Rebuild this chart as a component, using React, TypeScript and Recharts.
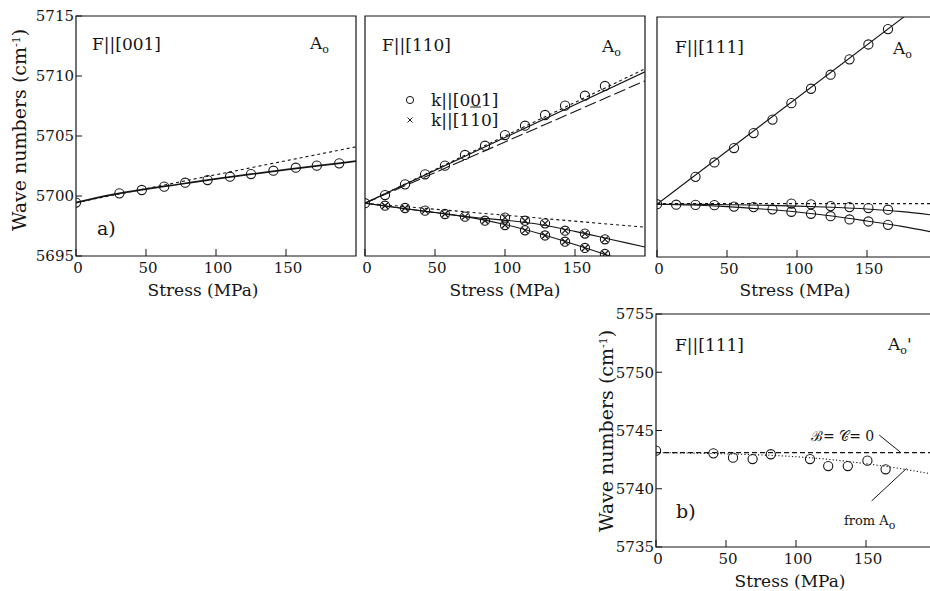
import React from 'react'
import { ComposedChart, Line, Scatter, XAxis, YAxis, ReferenceArea, ReferenceLine } from 'recharts'

// shared axes
const stressTicks = [0, 50, 100, 150]
const topTicks = [5695, 5700, 5705, 5710, 5715]
const bottomTicks = [5735, 5740, 5745, 5750, 5755]
const fitStress = [0, 25, 50, 75, 100, 125, 150, 175, 200]
const ends = [0, 200]

// a) F||[001]
const stress001 = [0, 31, 47, 63, 78, 94, 110, 125, 141, 157, 172, 188]
const wave001 = [5699.45, 5700.22, 5700.5, 5700.78, 5701.11, 5701.33, 5701.61, 5701.83, 5702.11, 5702.36, 5702.53, 5702.72]
const fit001Solid = [5699.45, 5700.1, 5700.58, 5701.0, 5701.42, 5701.82, 5702.2, 5702.55, 5702.9]
const fit001Dash = [5699.45, 5704.1]

// F||[110]
const stress110 = [0, 14.3, 28.6, 42.9, 57.1, 71.4, 85.7, 100, 114.3, 128.6, 142.9, 157.1, 171.4]
const wave110Up = [5699.4, 5700.08, 5700.97, 5701.81, 5702.53, 5703.42, 5704.19, 5705.08, 5705.86, 5706.75, 5707.53, 5708.36, 5709.17]
const stress110Low = [14.3, 28.6, 42.9, 57.1, 71.4, 85.7]
const wave110Low = [5699.19, 5699.0, 5698.78, 5698.5, 5698.28, 5697.94]
const stress110Split = [100, 114.3, 128.6, 142.9, 157.1, 171.4]
const wave110Mid = [5698.2, 5697.94, 5697.72, 5697.11, 5696.87, 5696.39]
const wave110Bot = [5697.58, 5697.14, 5696.71, 5696.19, 5695.67, 5695.17]
const fit110UpSolid = [5699.4, 5710.35]
const fit110UpDot = [5699.4, 5710.6]
const fit110UpLong = [5699.4, 5709.6]
const fit110LowDash = [5699.4, 5697.4]
const fit110Mid = [5699.4, 5699.0, 5698.62, 5698.25, 5697.98, 5697.62, 5697.05, 5696.4, 5695.75]
const fit110Bot = [5699.4, 5699.0, 5698.62, 5698.22, 5697.62, 5696.85, 5695.95, 5695.0, 5694.1]

// F||[111]
const stress111 = [0, 27.5, 41, 55, 69, 82.5, 96, 110, 124, 137.5, 151, 165]
const wave111Up = [5699.4, 5701.68, 5702.88, 5704.08, 5705.33, 5706.45, 5707.82, 5709.02, 5710.19, 5711.47, 5712.71, 5713.99]
const stress111Mid = [13.7, 27.5, 41, 55, 69, 82.5, 96, 110, 124, 137.5, 151, 165]
const wave111Mid = [5699.36, 5699.34, 5699.32, 5699.2, 5699.16, 5698.97, 5699.45, 5699.39, 5699.24, 5699.16, 5699.08, 5698.94]
const stress111Bot = [96, 110, 124, 137.5, 151, 165]
const wave111Bot = [5698.77, 5698.6, 5698.4, 5698.13, 5697.96, 5697.68]
const fit111Up = [5699.4, 5717.1]
const fit111Dash = [5699.45, 5699.45]
const fit111Mid = [5699.4, 5699.39, 5699.36, 5699.31, 5699.24, 5699.14, 5699.0, 5698.78, 5698.45]
const fit111Bot = [5699.4, 5699.33, 5699.2, 5699.0, 5698.75, 5698.42, 5698.0, 5697.55, 5697.0]

// b) F||[111], A0'
const stressB = [0, 41, 55, 69, 82, 110, 123, 137, 151, 164]
const waveB = [5743.27, 5743.04, 5742.67, 5742.55, 5742.96, 5742.55, 5741.95, 5741.95, 5742.41, 5741.67]
const fitBZero = [5743.1, 5743.1]
const fitBFromA0 = [5743.1, 5743.06, 5743.0, 5742.9, 5742.75, 5742.5, 5742.15, 5741.72, 5741.2]
const pointerZero = [{ x: 159.5, y: 5744.6 }, { x: 174.5, y: 5743.15 }]
const pointerA0 = [{ x: 154, y: 5738.95 }, { x: 179, y: 5741.75 }]

const pts = (xs: number[], ys: number[]) => xs.map((x, i) => ({ x, y: ys[i] }))

const ink = '#151515'
const serif = "'DejaVu Serif', 'Liberation Serif', serif"
const tickStyle = { fontFamily: serif, fontSize: 15, fill: ink }

const Ring = (p: any) => <circle cx={p.cx} cy={p.cy} r={4.6} fill="none" stroke={ink} strokeWidth={1.1} />
const Cross = (p: any) => (
  <path
    d={`M${p.cx - 3},${p.cy - 3}L${p.cx + 3},${p.cy + 3}M${p.cx - 3},${p.cy + 3}L${p.cx + 3},${p.cy - 3}`}
    stroke={ink}
    strokeWidth={1.2}
  />
)

function fit(data: { x: number; y: number }[], dash?: string, type: 'linear' | 'monotone' = 'monotone', w = 1.1) {
  return (
    <Line
      data={data}
      dataKey="y"
      type={type}
      dot={false}
      stroke={ink}
      strokeWidth={w}
      strokeDasharray={dash}
      isAnimationActive={false}
    />
  )
}

interface PanelProps {
  left: number
  top: number
  width: number
  height: number
  yAxisW: number
  yDomain: [number, number]
  yTicks: number[]
  yLabels: boolean
  children: React.ReactNode
}

function Panel({ left, top, width, height, yAxisW, yDomain, yTicks, yLabels, children }: PanelProps) {
  return (
    <div style={{ position: 'absolute', left, top }}>
      <ComposedChart width={width} height={height} margin={{ top: 16, right: width - yAxisW - 280, bottom: 0, left: 0 }}>
        <XAxis
          dataKey="x"
          type="number"
          domain={[0, 200]}
          ticks={stressTicks}
          interval={0}
          allowDataOverflow
          height={44}
          axisLine={false}
          tickSize={-7}
          tickMargin={13}
          tick={{ ...tickStyle, dx: 2 }}
          tickLine={{ stroke: ink }}
        />
        <YAxis
          dataKey="y"
          type="number"
          domain={yDomain}
          ticks={yTicks}
          interval={0}
          allowDataOverflow
          width={yAxisW}
          axisLine={false}
          tickSize={-6}
          tickMargin={8}
          tick={yLabels ? tickStyle : false}
          tickLine={{ stroke: ink }}
        />
        <ReferenceArea x1={0} x2={200} y1={yDomain[0]} y2={yDomain[1]} fill="none" stroke={ink} strokeWidth={1.2} />
        {children}
      </ComposedChart>
    </div>
  )
}

function Txt({ x, y, size = 17, anchor = 'start', children }: { x: number; y: number; size?: number; anchor?: string; children: React.ReactNode }) {
  return (
    <div
      style={{
        position: 'absolute',
        left: x,
        top: y,
        fontFamily: serif,
        fontSize: size,
        lineHeight: 1,
        whiteSpace: 'nowrap',
        color: ink,
        transform: `translate(${anchor === 'middle' ? '-50%' : '0'}, -50%)`,
      }}
    >
      {children}
    </div>
  )
}

function YLabel({ x, y }: { x: number; y: number }) {
  return (
    <div
      style={{
        position: 'absolute',
        left: x,
        top: y,
        fontFamily: serif,
        fontSize: 19,
        lineHeight: 1,
        whiteSpace: 'nowrap',
        color: ink,
        transform: 'translate(-50%, -50%) rotate(-90deg)',
      }}
    >
      Wave numbers (cm<span style={{ fontSize: 11, verticalAlign: 6 }}>-1</span>)
    </div>
  )
}

const A0 = () => (
  <>
    A<span style={{ fontSize: 11, verticalAlign: -4 }}>o</span>
  </>
)

export default function App() {
  return (
    <div style={{ position: 'fixed', left: 0, top: 0, width: 930, height: 591, overflow: 'hidden', background: '#fff' }}>
      <Panel left={0} top={0} width={360} height={300} yAxisW={76} yDomain={[5695, 5715]} yTicks={topTicks} yLabels>
        {fit(pts(fitStress, fit001Solid), undefined, 'monotone', 1.7)}
        {fit(pts(ends, fit001Dash), '3 3', 'linear')}
        <Scatter data={pts(stress001, wave001)} shape={Ring} isAnimationActive={false} />
      </Panel>

      <Panel left={300} top={0} width={360} height={300} yAxisW={65} yDomain={[5695, 5715]} yTicks={topTicks} yLabels={false}>
        {fit(pts(ends, fit110UpSolid), undefined, 'linear')}
        {fit(pts(ends, fit110UpDot), '3 3', 'linear')}
        {fit(pts(ends, fit110UpLong), '12 4', 'linear')}
        {fit(pts(ends, fit110LowDash), '3 3', 'linear')}
        {fit(pts(fitStress, fit110Mid))}
        {fit(pts(fitStress, fit110Bot))}
        <Scatter data={pts(stress110, wave110Up)} shape={Ring} isAnimationActive={false} />
        <Scatter data={pts(stress110Low, wave110Low)} shape={Ring} isAnimationActive={false} />
        <Scatter data={pts(stress110Split, wave110Mid)} shape={Ring} isAnimationActive={false} />
        <Scatter data={pts(stress110Split, wave110Bot)} shape={Ring} isAnimationActive={false} />
        <Scatter data={pts(stress110Low, wave110Low)} shape={Cross} isAnimationActive={false} />
        <Scatter data={pts(stress110Split, wave110Mid)} shape={Cross} isAnimationActive={false} />
        <Scatter data={pts(stress110Split, wave110Bot)} shape={Cross} isAnimationActive={false} />
      </Panel>

      <Panel left={592} top={1} width={350} height={300} yAxisW={65} yDomain={[5695, 5715]} yTicks={topTicks} yLabels={false}>
        {fit(pts(ends, fit111Up), undefined, 'linear')}
        {fit(pts(ends, fit111Dash), '3 3', 'linear')}
        {fit(pts(fitStress, fit111Mid))}
        {fit(pts(fitStress, fit111Bot))}
        <Scatter data={pts(stress111, wave111Up)} shape={Ring} isAnimationActive={false} />
        <Scatter data={pts(stress111Mid, wave111Mid)} shape={Ring} isAnimationActive={false} />
        <Scatter data={pts(stress111Bot, wave111Bot)} shape={Ring} isAnimationActive={false} />
      </Panel>

      <Panel left={580} top={298} width={361} height={293} yAxisW={76} yDomain={[5735, 5755]} yTicks={bottomTicks} yLabels>
        {fit(pts(ends, fitBZero), '5 3', 'linear')}
        {fit(pts(fitStress, fitBFromA0), '1.2 2.2')}
        <ReferenceLine segment={pointerZero} stroke={ink} strokeWidth={1} ifOverflow="visible" />
        <ReferenceLine segment={pointerA0} stroke={ink} strokeWidth={1} ifOverflow="visible" />
        <Scatter data={pts(stressB, waveB)} shape={Ring} isAnimationActive={false} />
      </Panel>

      {/* axis titles */}
      <YLabel x={19} y={130} />
      <YLabel x={606} y={431} />
      <Txt x={203} y={290} anchor="middle">Stress (MPa)</Txt>
      <Txt x={505} y={290} anchor="middle">Stress (MPa)</Txt>
      <Txt x={795} y={290} anchor="middle">Stress (MPa)</Txt>
      <Txt x={790} y={581} anchor="middle">Stress (MPa)</Txt>

      {/* panel captions */}
      <Txt x={92} y={44}>F||[001]</Txt>
      <Txt x={310} y={45}><A0 /></Txt>
      <Txt x={97} y={228} size={19}>a)</Txt>

      <Txt x={382} y={45}>F||[110]</Txt>
      <Txt x={602} y={48}><A0 /></Txt>

      <Txt x={675} y={47}>F||[111]</Txt>
      <Txt x={893} y={50}><A0 /></Txt>

      <Txt x={675} y={345}>F||[111]</Txt>
      <Txt x={888} y={346}><A0 />'</Txt>
      <Txt x={676} y={511} size={19}>b)</Txt>
      <Txt x={811} y={436} size={14}>ℬ= 𝒞= 0</Txt>
      <Txt x={844} y={522} size={13}>from <A0 /></Txt>

      {/* legend of F||[110] */}
      <svg style={{ position: 'absolute', left: 403, top: 93 }} width={16} height={34}>
        <circle cx={7} cy={7} r={3.6} fill="none" stroke={ink} strokeWidth={1} />
        <path d="M4.5,24.5L9.5,29.5M4.5,29.5L9.5,24.5" stroke={ink} strokeWidth={1} />
      </svg>
      <Txt x={431} y={100}>
        k||[0<span style={{ textDecoration: 'underline' }}>0</span>1]
      </Txt>
      <Txt x={431} y={120}>k||[110]</Txt>
    </div>
  )
}
